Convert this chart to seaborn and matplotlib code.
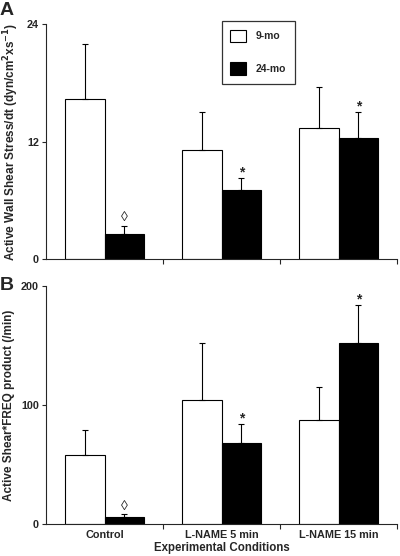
"""Active wall shear stress and shear*FREQ product, 9-mo vs 24-mo"""

import pandas as pd
import seaborn as sns
from matplotlib import pyplot as plt
from matplotlib.ticker import FixedLocator

conditions = ["Control", "L-NAME 5 min", "L-NAME 15 min"]
ages = ["9-mo", "24-mo"]

# Panel A: active wall shear stress/dt
shear_9 = [16.3, 11.1, 13.4]
shear_9_se = [5.7, 3.9, 4.2]
shear_24 = [2.6, 7.0, 12.4]
shear_24_se = [0.8, 1.3, 2.6]

# Panel B: active shear*FREQ product
freq_9 = [58, 104, 87]
freq_9_se = [21, 48, 28]
freq_24 = [6, 68, 152]
freq_24_se = [2, 16, 32]

sig_24 = ["\u25ca", "*", "*"]

sns.set_style("ticks")
plt.rcParams["font.family"] = ["Liberation Sans", "DejaVu Sans"]
plt.rcParams["font.weight"] = "bold"
plt.rcParams["mathtext.default"] = "bf"


def make_df(v9, v24):
    return pd.DataFrame({
        "condition": conditions * 2,
        "age": [ages[0]] * 3 + [ages[1]] * 3,
        "value": list(v9) + list(v24),
    })


def draw_panel(ax, v9, se9, v24, se24, ymax, yticks, ylabel):
    sns.barplot(data=make_df(v9, v24), x="condition", y="value", hue="age",
                hue_order=ages, order=conditions,
                palette={"9-mo": "white", "24-mo": "black"},
                edgecolor="black", linewidth=0.8, width=0.675, gap=0,
                errorbar=None, legend=False, ax=ax)

    # upper-only error bars, placed from the bar patches
    for k, (cont, se) in enumerate(zip(ax.containers, [se9, se24])):
        xs = [b.get_x() + b.get_width() / 2 for b in cont]
        ys = [b.get_height() for b in cont]
        ax.errorbar(xs, ys, yerr=[[0] * len(se), se], fmt="none",
                    ecolor="black", elinewidth=0.8, capsize=2.2, capthick=0.8)
        if k == 1:
            for x, y, e, s in zip(xs, ys, se, sig_24):
                star = s == "*"
                ax.annotate(s, xy=(x, y + e), xytext=(0, -1 if star else 1),
                            textcoords="offset points", ha="center",
                            va="bottom", fontsize=10 if star else 10,
                            fontweight="bold" if star else "normal")

    ax.set_xlim(-0.5, 2.5)
    ax.set_ylim(0, ymax)
    ax.set_yticks(yticks)
    ax.set_ylabel(ylabel, fontsize=8.5, fontweight="bold", labelpad=4)
    ax.set_xlabel(None)
    ax.xaxis.set_minor_locator(FixedLocator([0.5, 1.5, 2.5]))
    ax.tick_params(axis="x", which="major", length=0, labelsize=7.8, pad=4)
    ax.tick_params(axis="x", which="minor", length=3.5, width=0.8, direction="out")
    ax.tick_params(axis="y", length=3, width=0.8, labelsize=7.8, pad=2)
    sns.despine(ax=ax)
    for sp in ["left", "bottom"]:
        ax.spines[sp].set_linewidth(0.8)


fig = plt.figure(figsize=(4, 5.56), dpi=100)
ax_a = fig.add_axes([0.115, 0.534, 0.8775, 0.423])
ax_b = fig.add_axes([0.115, 0.0576, 0.8775, 0.428])

draw_panel(ax_a, shear_9, shear_9_se, shear_24, shear_24_se, 24, [0, 12, 24],
           "Active Wall Shear Stress/dt (dyn/cm$^{2}$xs$^{-1}$)")
draw_panel(ax_b, freq_9, freq_9_se, freq_24, freq_24_se, 200, [0, 100, 200],
           "Active Shear*FREQ product (/min)")

ax_a.set_xticklabels([])
ax_b.set_xlabel("Experimental Conditions", fontsize=8.3, fontweight="bold", labelpad=2)

fig.text(0.0, 0.997, "A", fontsize=14, fontweight="bold", ha="left", va="top")
fig.text(0.0, 0.502, "B", fontsize=14, fontweight="bold", ha="left", va="top")

leg = ax_a.legend(handles=[ax_a.containers[0][0], ax_a.containers[1][0]],
                  labels=ages, loc="upper left", bbox_to_anchor=(0.5, 1.013),
                  fontsize=7.5, frameon=True, fancybox=False, edgecolor="black",
                  handlelength=1.5, handleheight=1.5, labelspacing=1.9,
                  handletextpad=0.9, borderpad=0.85, borderaxespad=0)
leg.get_frame().set_linewidth(0.9)

fig.savefig("out.png", dpi=100)
plt.close(fig)
